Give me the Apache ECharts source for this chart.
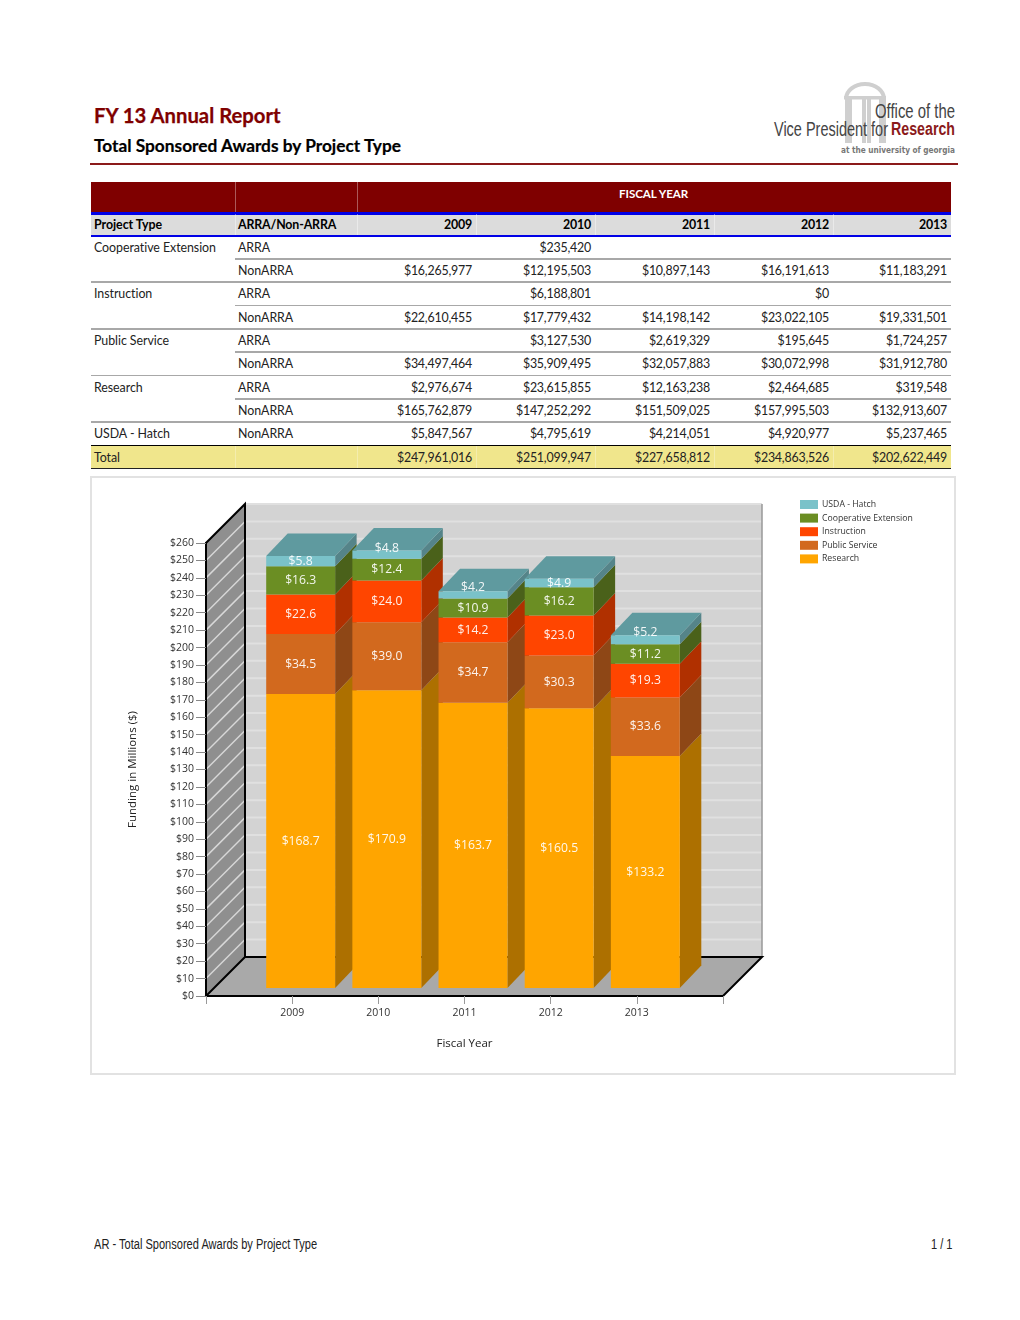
<!DOCTYPE html>
<html><head><meta charset="utf-8">
<script src="https://cdn.jsdelivr.net/npm/echarts@6/dist/echarts.min.js"></script>
<style>
html,body{margin:0;padding:0;background:#fff;}
#page{position:relative;width:1020px;height:1320px;overflow:hidden;font-family:Lato,"Open Sans",sans-serif;color:#111;}
.abs{position:absolute;white-space:nowrap;}
.cell{position:absolute;white-space:nowrap;font-size:12.4px;line-height:16px;height:16px;letter-spacing:-.05px;}
.r{text-align:right;letter-spacing:-.2px;}
.bar{position:absolute;}
.foot{position:absolute;white-space:nowrap;top:1235.5px;font-family:'Liberation Sans';font-size:14px;line-height:16px;color:#222;transform:scaleX(.79);transform-origin:left center;}
#chartBox{position:absolute;left:90px;top:476px;width:862px;height:595px;border:2px solid #e2e2e2;}
#chart{position:absolute;left:0;top:0;width:862px;height:595px;}
</style></head><body>
<div id="page">
  <div class="abs" style="left:94px;top:102px;font-size:20.3px;line-height:26px;font-weight:700;color:#7f0000;-webkit-text-stroke:.25px #7f0000;">FY 13 Annual Report</div>
  <div class="abs" style="left:94px;top:135px;font-size:17.3px;line-height:22px;font-weight:700;color:#000;-webkit-text-stroke:.2px #000;">Total Sponsored Awards by Project Type</div>
  <div class="bar" style="left:90px;top:163px;width:868px;height:2px;background:#8b1a1a;"></div>
  <svg class="abs" style="left:760px;top:70px;" width="200" height="92" viewBox="760 70 200 92">
    <path d="M846 99 A19 15 0 0 1 884 99" fill="none" stroke="#cfcfcf" stroke-width="4"/>
    <g fill="#cfcfcf">
      <rect x="844" y="96" width="42" height="3.5"/>
      <rect x="845" y="99" width="7" height="44"/>
      <rect x="862" y="99" width="4" height="44"/>
      <rect x="867" y="99" width="4" height="44"/>
      <rect x="879" y="99" width="7" height="44"/>
    </g>
    <text x="955" y="118" text-anchor="end" textLength="80" lengthAdjust="spacingAndGlyphs" font-family="'Liberation Sans'" font-size="20" fill="#444">Office of the</text>
    <text x="774" y="136" textLength="114" lengthAdjust="spacingAndGlyphs" font-family="'Liberation Sans'" font-size="20" fill="#444">Vice President for</text>
    <text x="955" y="135" text-anchor="end" textLength="64" lengthAdjust="spacingAndGlyphs" font-family="'Liberation Sans'" font-size="18" font-weight="700" fill="#8b1a1a">Research</text>
    <text x="955" y="153" text-anchor="end" textLength="114" lengthAdjust="spacingAndGlyphs" font-family="'DejaVu Sans'" font-size="8.5" font-weight="700" fill="#777">at the university of georgia</text>
  </svg>
  <div id="table"></div>
  <div id="chartBox"><div id="chart"></div></div>
  <div class="foot" style="left:94px;">AR - Total Sponsored Awards by Project Type</div>
  <div class="foot" style="left:931px;">1 / 1</div>
</div>
<script>
// ---------- table data ----------
const fiscalYears = ['2009','2010','2011','2012','2013'];
const tableRows = [
  ['Cooperative Extension','ARRA','','$235,420','','',''],
  ['','NonARRA','$16,265,977','$12,195,503','$10,897,143','$16,191,613','$11,183,291'],
  ['Instruction','ARRA','','$6,188,801','','$0',''],
  ['','NonARRA','$22,610,455','$17,779,432','$14,198,142','$23,022,105','$19,331,501'],
  ['Public Service','ARRA','','$3,127,530','$2,619,329','$195,645','$1,724,257'],
  ['','NonARRA','$34,497,464','$35,909,495','$32,057,883','$30,072,998','$31,912,780'],
  ['Research','ARRA','$2,976,674','$23,615,855','$12,163,238','$2,464,685','$319,548'],
  ['','NonARRA','$165,762,879','$147,252,292','$151,509,025','$157,995,503','$132,913,607'],
  ['USDA - Hatch','NonARRA','$5,847,567','$4,795,619','$4,214,051','$4,920,977','$5,237,465']
];
const totalRow = ['Total','','$247,961,016','$251,099,947','$227,658,812','$234,863,526','$202,622,449'];

// ---------- chart data ----------
const research    = [168.7,170.9,163.7,160.5,133.2];
const publicServ  = [34.5,39.0,34.7,30.3,33.6];
const instruction = [22.6,24.0,14.2,23.0,19.3];
const coopExt     = [16.3,12.4,10.9,16.2,11.2];
const usdaHatch   = [5.8,4.8,4.2,4.9,5.2];
const stackNames  = ['Research','Public Service','Instruction','Cooperative Extension','USDA - Hatch'];
const stackValues = [research,publicServ,instruction,coopExt,usdaHatch];
const legendOrder = ['USDA - Hatch','Cooperative Extension','Instruction','Public Service','Research'];
const xCategories = ['','2009','2010','2011','2012','2013',''];

// ---------- table drawing ----------
(function(){
  const host=document.getElementById('table');
  const rightEdges=[472,591,710,829,947];
  const add=(html)=>host.insertAdjacentHTML('beforeend',html);
  const band=(l,t,w,h,c)=>add(`<div class="bar" style="left:${l}px;top:${t}px;width:${w}px;height:${h}px;background:${c}"></div>`);
  const text=(t,y,x,opts)=>{
    opts=opts||{};
    if(opts.right) add(`<div class="cell r" style="right:${1020-x}px;top:${y-8}px;${opts.css||''}">${t}</div>`);
    else add(`<div class="cell" style="left:${x}px;top:${y-8}px;${opts.css||''}">${t}</div>`);
  };
  band(91,182,860,30,'#7f0000');
  band(91,212,860,2.5,'#0000e6');
  band(91,214.5,860,20,'#dcdcdc');
  band(91,234.5,860,2,'#0000e6');
  text('FISCAL YEAR',194,619,{css:'color:#fff;font-weight:700;font-size:11.6px;'});
  text('Project Type',224.6,94,{css:'font-weight:700;color:#000;'});
  text('ARRA/Non-ARRA',224.6,238,{css:'font-weight:700;color:#000;letter-spacing:-.15px;'});
  fiscalYears.forEach((y,i)=>text(y,224.6,rightEdges[i],{right:true,css:'font-weight:700;color:#000;'}));
  const rowH=23.33;
  tableRows.forEach((row,i)=>{
    const cy=247.7+i*rowH, ly=258+i*rowH;
    if(row[0]) text(row[0],cy,94,{css:'color:#222;'});
    text(row[1],cy,238,{css:'color:#222;'});
    row.slice(2).forEach((v,k)=>{ if(v) text(v,cy,rightEdges[k],{right:true,css:'color:#222;'}); });
    const last=(i===tableRows.length-1);
    const groupEnd=(row[0]==='' );
    const c=last?'#000':'#a8a8a8';
    if(last) band(91,ly,860,1.6,c);
    else { band(235,ly,716,1.6,c); if(groupEnd) band(91,ly,144,1.6,c); }
  });
  band(91,446,860,22,'#f0e68c');
  band(91,467.5,860,1.2,'#222');
  text(totalRow[0],457.7,94,{css:'color:#222;'});
  totalRow.slice(2).forEach((v,k)=>text(v,457.7,rightEdges[k],{right:true,css:'color:#222;'}));
  [234.5,356.5].forEach(x=>band(x,182,1,30,'rgba(255,255,255,.35)'));
  [234.5,356.5,475.5,594.5,713.5,832.5].forEach(x=>{band(x,214,1,21,'rgba(255,255,255,.4)');band(x,446,1,22,'rgba(255,255,255,.3)');});
})();

// ---------- chart drawing ----------
const frontColors = ['#ffa500','#d2691e','#ff4500','#6b8e23','#7ac2c9'];
const sideColors  = ['#ad7000','#8e4716','#b03000','#4a611a','#558489'];
const topColor = '#5f9a9f';
const CHART_FONT = '"Open Sans",sans-serif';
const yMax=260, yStep=10;
const wallDepth=[39,-39], barDepth=[21.5,-22.5], barFloat=[8.5,-8], barRatio=0.8;
const labelLift={'2010':6,'2011':7,'2013':7,'2009':-0.5,'2012':-0.5};

function renderScene(params,api){
  const o=api.coord([0,0]), xe=api.coord([6,0]), t=api.coord([0,yMax]);
  const dx=wallDepth[0], dy=wallDepth[1];
  const ch=[];
  ch.push({type:'rect',shape:{x:o[0]+dx,y:t[1]+dy,width:xe[0]-o[0],height:o[1]-t[1]},style:{fill:'#d3d3d3'}});
  for(let v=yStep;v<=yMax;v+=yStep){
    const p=api.coord([0,v]);
    ch.push({type:'line',shape:{x1:o[0]+dx,y1:p[1]+dy,x2:xe[0]+dx,y2:p[1]+dy},style:{stroke:'#e0e0e0',lineWidth:2}});
  }
  ch.push({type:'line',shape:{x1:xe[0]+dx,y1:t[1]+dy,x2:xe[0]+dx,y2:o[1]+dy},style:{stroke:'#999',lineWidth:1.5}});
  ch.push({type:'polygon',shape:{points:[[o[0],o[1]],[xe[0],o[1]],[xe[0]+dx,o[1]+dy],[o[0]+dx,o[1]+dy]]},style:{fill:'#a9a9a9'}});
  ch.push({type:'polygon',shape:{points:[[o[0],o[1]],[o[0],t[1]],[o[0]+dx,t[1]+dy],[o[0]+dx,o[1]+dy]]},style:{fill:'#8f8f8f'}});
  for(let v=yStep;v<yMax;v+=yStep){
    const p=api.coord([0,v]);
    ch.push({type:'line',shape:{x1:o[0],y1:p[1],x2:o[0]+dx,y2:p[1]+dy},style:{stroke:'#d8d8d8',lineWidth:1.5}});
  }
  ch.push({type:'polyline',shape:{points:[[o[0],o[1]],[o[0],t[1]],[o[0]+dx,t[1]+dy],[o[0]+dx,o[1]+dy],[xe[0]+dx,o[1]+dy],[xe[0],o[1]],[o[0],o[1]],[o[0]+dx,o[1]+dy]]},style:{stroke:'#000',lineWidth:2,fill:null}});
  return {type:'group',children:ch};
}

function makeRender(segIdx){
  return function(params,api){
    const cat=api.value(0), lo=api.value(1), hi=api.value(2), val=api.value(3);
    const band=api.size([1,0])[0], w=band*barRatio;
    const a=api.coord([cat,lo]), b=api.coord([cat,hi]);
    const x=a[0]+barFloat[0]-w/2, y0=a[1]+barFloat[1], y1=b[1]+barFloat[1];
    const z=cat*10+segIdx;
    const ddx=barDepth[0], ddy=barDepth[1];
    const ch=[];
    ch.push({type:'polygon',z2:z,shape:{points:[[x+w,y0],[x+w+ddx,y0+ddy],[x+w+ddx,y1+ddy],[x+w,y1]]},style:{fill:sideColors[segIdx]}});
    if(segIdx===stackNames.length-1){
      ch.push({type:'polygon',z2:z,shape:{points:[[x,y1],[x+w,y1],[x+w+ddx,y1+ddy],[x+ddx,y1+ddy]]},style:{fill:topColor}});
    }
    ch.push({type:'rect',z2:z,shape:{x:x,y:y1,width:w,height:y0-y1},style:{fill:frontColors[segIdx]}});
    const lift=segIdx===stackNames.length-1?(labelLift[xCategories[cat]]||0):-0.2;
    ch.push({type:'text',z2:500,style:{x:x+w/2,y:(y0+y1)/2-lift,text:'$'+val.toFixed(1),fill:'#fff',opacity:0.92,font:'12.2px '+CHART_FONT,align:'center',verticalAlign:'middle'}});
    return {type:'group',children:ch};
  };
}

const barSeries=stackNames.map((name,s)=>{
  const data=fiscalYears.map((yr,i)=>{
    let lo=0; for(let k=0;k<s;k++) lo+=stackValues[k][i];
    return [i+1,lo,lo+stackValues[s][i],stackValues[s][i]];
  });
  return {name:name,type:'custom',z:3,clip:false,itemStyle:{color:frontColors[s]},
    renderItem:makeRender(s),encode:{x:0,y:[1,2]},data:data};
});

const chart=echarts.init(document.getElementById('chart'),null,{renderer:'canvas'});
chart.setOption({
  animation:false,
  textStyle:{fontFamily:CHART_FONT},
  grid:{left:114,top:65,width:517,height:453,containLabel:false},
  legend:{data:legendOrder,orient:'vertical',left:703,top:17,itemWidth:18,itemHeight:9,itemGap:4.6,
    icon:'rect',selectedMode:false,textStyle:{fontSize:8.7,color:'#333',fontFamily:CHART_FONT,padding:[0,0,0,-1]}},
  xAxis:{type:'category',data:xCategories,boundaryGap:false,z:5,
    name:'Fiscal Year',nameLocation:'middle',nameGap:42,nameTextStyle:{fontSize:11.5,color:'#222',fontFamily:CHART_FONT},
    axisLine:{lineStyle:{color:'#000',width:2}},
    axisTick:{show:true,interval:0,length:8,lineStyle:{color:'#999',width:1}},
    axisLabel:{interval:0,fontSize:10.5,color:'#333',margin:12,fontFamily:CHART_FONT},
    splitLine:{show:false}},
  yAxis:{type:'value',min:0,max:yMax,interval:yStep,z:5,
    name:'Funding in Millions ($)',nameLocation:'middle',nameGap:67,nameRotate:90,nameTextStyle:{fontSize:11.5,color:'#222',fontFamily:CHART_FONT},
    axisLine:{show:true,lineStyle:{color:'#000',width:2}},
    axisTick:{show:true,length:10,lineStyle:{color:'#888',width:1}},
    axisLabel:{fontSize:10.5,color:'#333',margin:12,formatter:v=>'$'+v,fontFamily:CHART_FONT},
    splitLine:{show:false}},
  series:[{type:'custom',name:'scene',z:1,clip:false,silent:true,renderItem:renderScene,encode:{x:0,y:1},data:[[0,0]]}].concat(barSeries)
});
</script>
</body></html>
